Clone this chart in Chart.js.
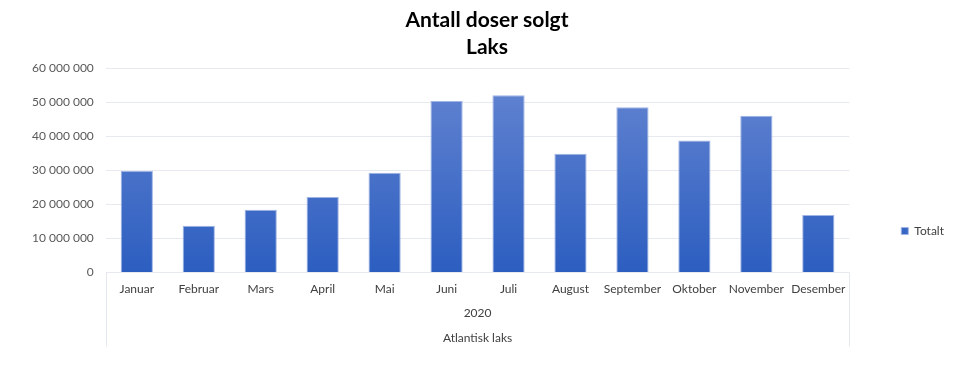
<!DOCTYPE html>
<html>
<head>
<meta charset="utf-8">
<script src="https://cdn.jsdelivr.net/npm/chart.js@4/dist/chart.umd.min.js"></script>
<style>
  html, body { margin: 0; padding: 0; background: #fff; }
  #wrap { width: 960px; height: 384px; }
</style>
</head>
<body>
<div id="wrap"><canvas id="myChart"></canvas></div>
<script>
// data
var months = ["Januar", "Februar", "Mars", "April", "Mai", "Juni", "Juli", "August", "September", "Oktober", "November", "Desember"];
var totalt = [29800000, 13700000, 18400000, 22200000, 29300000, 50400000, 52100000, 34900000, 48600000, 38800000, 46100000, 16900000];
var yearLabel = "2020";
var groupLabel = "Atlantisk laks";
var seriesName = "Totalt";
var titleLines = ["Antall doser solgt", "Laks"];

function fmt(v) {
    return String(v).replace(/\B(?=(\d{3})+(?!\d))/g, " ");
}

// lines below the axis, left and right of the category block
// and the legend moved down next to the lower part of the plot
var groupLines = {
    id: 'groupLines',
    afterLayout: function (chart) {
        var l = chart.legend;
        if (!l) return;
        var h = l.bottom - l.top;
        l.top = 217;
        l.bottom = l.top + h;
    },
    afterDraw: function (chart) {
        var ctx = chart.ctx;
        var a = chart.chartArea;
        ctx.save();
        ctx.strokeStyle = '#e3e7ee';
        ctx.lineWidth = 1;
        ctx.beginPath();
        ctx.moveTo(Math.round(a.left) + 0.5, a.bottom);
        ctx.lineTo(Math.round(a.left) + 0.5, a.bottom + 74);
        ctx.moveTo(Math.round(a.right) + 0.5, a.bottom);
        ctx.lineTo(Math.round(a.right) + 0.5, a.bottom + 74);
        ctx.stroke();
        ctx.restore();
    }
};

function barFill(context) {
    var chart = context.chart;
    var a = chart.chartArea;
    if (!a) return '#4472c4';
    var g = chart.ctx.createLinearGradient(0, a.top, 0, a.bottom);
    g.addColorStop(0, '#6686d2');
    g.addColorStop(1, '#2c5ec0');
    return g;
}

new Chart(document.getElementById("myChart"), {
    type: 'bar',
    data: {
        labels: months,
        datasets: [{
            label: seriesName,
            data: totalt,
            backgroundColor: barFill,
            borderColor: '#9fb4e4',
            borderWidth: 1,
            barPercentage: 0.52,
            categoryPercentage: 1.0
        }]
    },
    plugins: [groupLines],
    options: {
        responsive: true,
        maintainAspectRatio: false,
        animation: false,
        layout: { padding: { left: 20, right: 6, top: 4, bottom: 30 } },
        plugins: {
            title: {
                display: true,
                text: titleLines,
                color: '#000',
                font: { family: 'Lato', size: 21, weight: 'bold', lineHeight: 1.32 },
                padding: { top: 2, bottom: 7 }
            },
            legend: {
                position: 'right',
                align: 'start',
                labels: {
                    boxWidth: 7,
                    boxHeight: 7,
                    color: '#404040',
                    font: { family: 'Lato', size: 12 },
                    padding: 8
                }
            },
            tooltip: { enabled: false }
        },
        scales: {
            x: {
                grid: { display: false, drawTicks: false },
                border: { display: false },
                ticks: { color: '#404040', font: { family: 'Lato', size: 12 }, maxRotation: 0, autoSkip: false, padding: 10 },
                title: {
                    display: true,
                    text: [yearLabel, groupLabel],
                    color: '#404040',
                    font: { family: 'Lato', size: 12, lineHeight: 2.05 },
                    padding: { top: -6, bottom: 4 }
                }
            },
            y: {
                min: 0,
                max: 60000000,
                border: { display: false },
                grid: { color: '#e6e9ef', drawTicks: false },
                ticks: {
                    stepSize: 10000000,
                    color: '#595959',
                    font: { family: 'Lato', size: 12 },
                    padding: 12,
                    callback: function (v) { return fmt(v); }
                }
            },
            // empty axis, only keeps space between plot and legend
            gap: {
                type: 'linear',
                position: 'right',
                min: 0,
                max: 1,
                grid: { display: false, drawTicks: false },
                border: { display: false },
                ticks: { display: false },
                afterFit: function (s) { s.width = 44; }
            }
        }
    }
});
</script>
</body>
</html>
